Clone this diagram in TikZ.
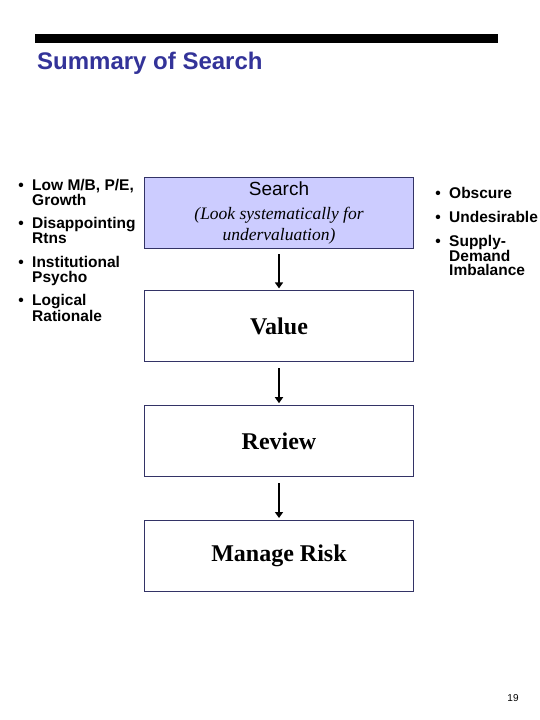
\documentclass[tikz,border=0pt]{standalone}
\usepackage{fontspec}
\setmainfont{Liberation Sans}
\newfontfamily\slideserif{Liberation Serif}
\usepackage{tikz}
\usetikzlibrary{arrows.meta,positioning}
\definecolor{slideblue}{RGB}{51,51,153}
\definecolor{boxedge}{RGB}{51,51,102}
\definecolor{boxfill}{RGB}{204,204,255}
\tikzset{
  stepbox/.style={draw=boxedge,line width=0.8pt,fill=#1,minimum width=269pt,minimum height=71pt,align=center,inner sep=0pt},
  steptext/.style={font=\slideserif\bfseries\fontsize{24}{28}\selectfont},
  bullist/.style={anchor=north west,align=left,inner sep=0pt,font=\bfseries\fontsize{15.5}{14.5}\selectfont},
}

\begin{document}
\begin{tikzpicture}[
    x=1pt,y=-1pt,
    flow/.style={-{Triangle[length=6pt,width=8pt]},line width=2.8pt,shorten <=6pt,shorten >=2pt},
  ]
    \useasboundingbox (0,0) rectangle (540,720);
    % Title
    \fill (35,34) rectangle (498,42.5);
    \node[anchor=base west,inner sep=0pt,text=slideblue,font=\bfseries\fontsize{24}{28}\selectfont] (title) at (37,69) {Summary of Search};
    % Steps
    \node[stepbox=boxfill,font=\fontsize{18}{21}\selectfont] (search) at (279,212.5) {%
      {\fontsize{19}{22}\selectfont Search}\\[3pt]
      {\slideserif\itshape\fontsize{17.5}{21}\selectfont (Look systematically for}\\
      {\slideserif\itshape\fontsize{17.5}{21}\selectfont undervaluation)}};
    \node[stepbox=white,steptext,below=42pt of search] (value) {Value};
    \node[stepbox=white,steptext,below=43pt of value] (review) {Review};
    \node[stepbox=white,steptext,below=43pt of review] (risk) {Manage Risk};
    \draw[flow] (search) -- (value);
    \draw[flow] (value) -- (review);
    \draw[flow] (review) -- (risk);
    % Left bullets
    \node[bullist] (low) at (32,179.5) {\llap{\textbullet\hspace{8.5pt}}Low M/B, P/E,\\Growth};
    \node[bullist] (rtns) at (32,217.5) {\llap{\textbullet\hspace{8.5pt}}Disappointing\\Rtns};
    \node[bullist] (psycho) at (32,256.5) {\llap{\textbullet\hspace{8.5pt}}Institutional\\Psycho};
    \node[bullist] (logic) at (32,294.5) {\llap{\textbullet\hspace{8.5pt}}Logical\\Rationale};
    % Right bullets
    \node[bullist] (obscure) at (449,187.5) {\llap{\textbullet\hspace{8.5pt}}Obscure};
    \node[bullist] (undes) at (449,211.5) {\llap{\textbullet\hspace{8.5pt}}Undesirable};
    \node[bullist] (supply) at (449,235.5) {\llap{\textbullet\hspace{8.5pt}}Supply-\\Demand\\Imbalance};
    % Page number
    \node[font=\fontsize{10}{12}\selectfont,inner sep=0pt] (page) at (513,698) {19};
\end{tikzpicture}
\end{document}
